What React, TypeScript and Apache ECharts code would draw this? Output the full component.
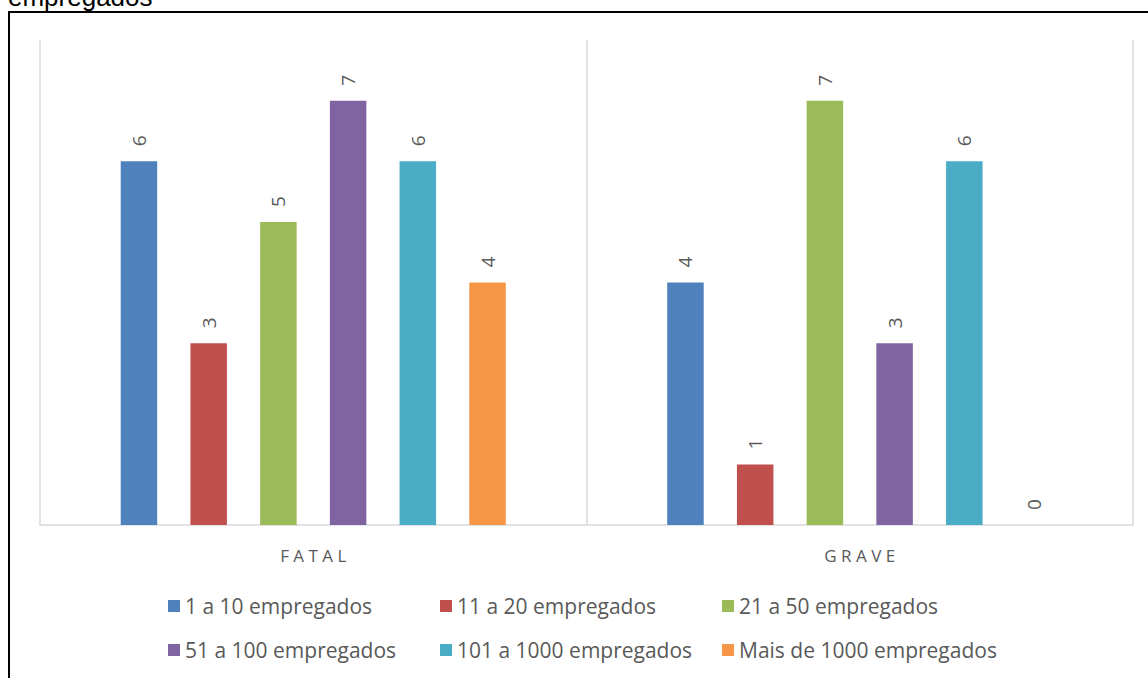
import React, { useEffect, useRef } from "react";
import * as echarts from "echarts";

// Accident severity categories
const categories = ["FATAL", "GRAVE"];

// Company size groups (series names)
const seriesNames = [
  "1 a 10 empregados",
  "11 a 20 empregados",
  "21 a 50 empregados",
  "51 a 100 empregados",
  "101 a 1000 empregados",
  "Mais de 1000 empregados",
];

// Counts per size group: [FATAL, GRAVE]
const s1a10 = [6, 4];
const s11a20 = [3, 1];
const s21a50 = [5, 7];
const s51a100 = [7, 3];
const s101a1000 = [6, 6];
const sMais1000 = [4, 0];

const seriesValues = [s1a10, s11a20, s21a50, s51a100, s101a1000, sMais1000];

const colors = ["#4f81bd", "#c0504d", "#9bbb59", "#8064a2", "#4bacc6", "#f79646"];

const FONT = "'Open Sans', Lato, sans-serif";

export default function App() {
  const ref = useRef<HTMLDivElement>(null);

  useEffect(() => {
    if (!ref.current) return;
    const chart = echarts.init(ref.current, undefined, { renderer: "svg" });

    // legend laid out in three columns, two rows
    const colLeft = [168, 440, 722];
    const rowTop = [594, 638];
    const legends = seriesNames.map((name, i) => ({
      show: true,
      data: [name],
      left: colLeft[i % 3],
      top: rowTop[Math.floor(i / 3)],
      itemWidth: 12,
      itemHeight: 12,
      icon: "rect",
      padding: 0,
      textStyle: {
        color: "#595959",
        fontSize: 21,
        fontFamily: FONT,
        lineHeight: 24,
      },
    }));

    chart.setOption({
      animation: false,
      backgroundColor: "#ffffff",
      color: colors,
      grid: { left: 40, right: 15, top: 40, bottom: 153 },
      legend: legends,
      xAxis: {
        type: "category",
        data: categories,
        axisLine: { lineStyle: { color: "#d9d9d9", width: 1.5 } },
        axisTick: { show: false },
        splitLine: { show: true, lineStyle: { color: "#d9d9d9", width: 1.5 } },
        axisLabel: {
          color: "#595959",
          fontSize: 17,
          fontFamily: FONT,
          margin: 22,
          // spaced-out capitals
          formatter: (v: string) => v.split("").join(" "),
        },
      },
      yAxis: {
        type: "value",
        min: 0,
        max: 8,
        show: false,
        splitLine: { show: false },
      },
      series: seriesNames.map((name, i) => ({
        name,
        type: "bar",
        data: seriesValues[i],
        barWidth: 36.5,
        barGap: "91%",
        label: {
          show: true,
          position: "top",
          distance: 15,
          rotate: 90,
          align: "left",
          verticalAlign: "middle",
          color: "#595959",
          fontSize: 19,
          fontFamily: FONT,
        },
      })),
      graphic: [
        {
          type: "rect",
          shape: { x: 9, y: 12, width: 1300, height: 800 },
          style: { fill: "none", stroke: "#000000", lineWidth: 2 },
          silent: true,
        },
        {
          type: "text",
          x: 8,
          y: -3,
          style: {
            text: "empregados",
            font: "26px 'Liberation Sans', Arial, sans-serif",
            fill: "#000000",
            verticalAlign: "middle",
          },
          silent: true,
        },
      ],
    });

    return () => chart.dispose();
  }, []);

  return (
    <div
      ref={ref}
      style={{ position: "fixed", left: 0, top: 0, width: 1148, height: 678, background: "#fff" }}
    />
  );
}
